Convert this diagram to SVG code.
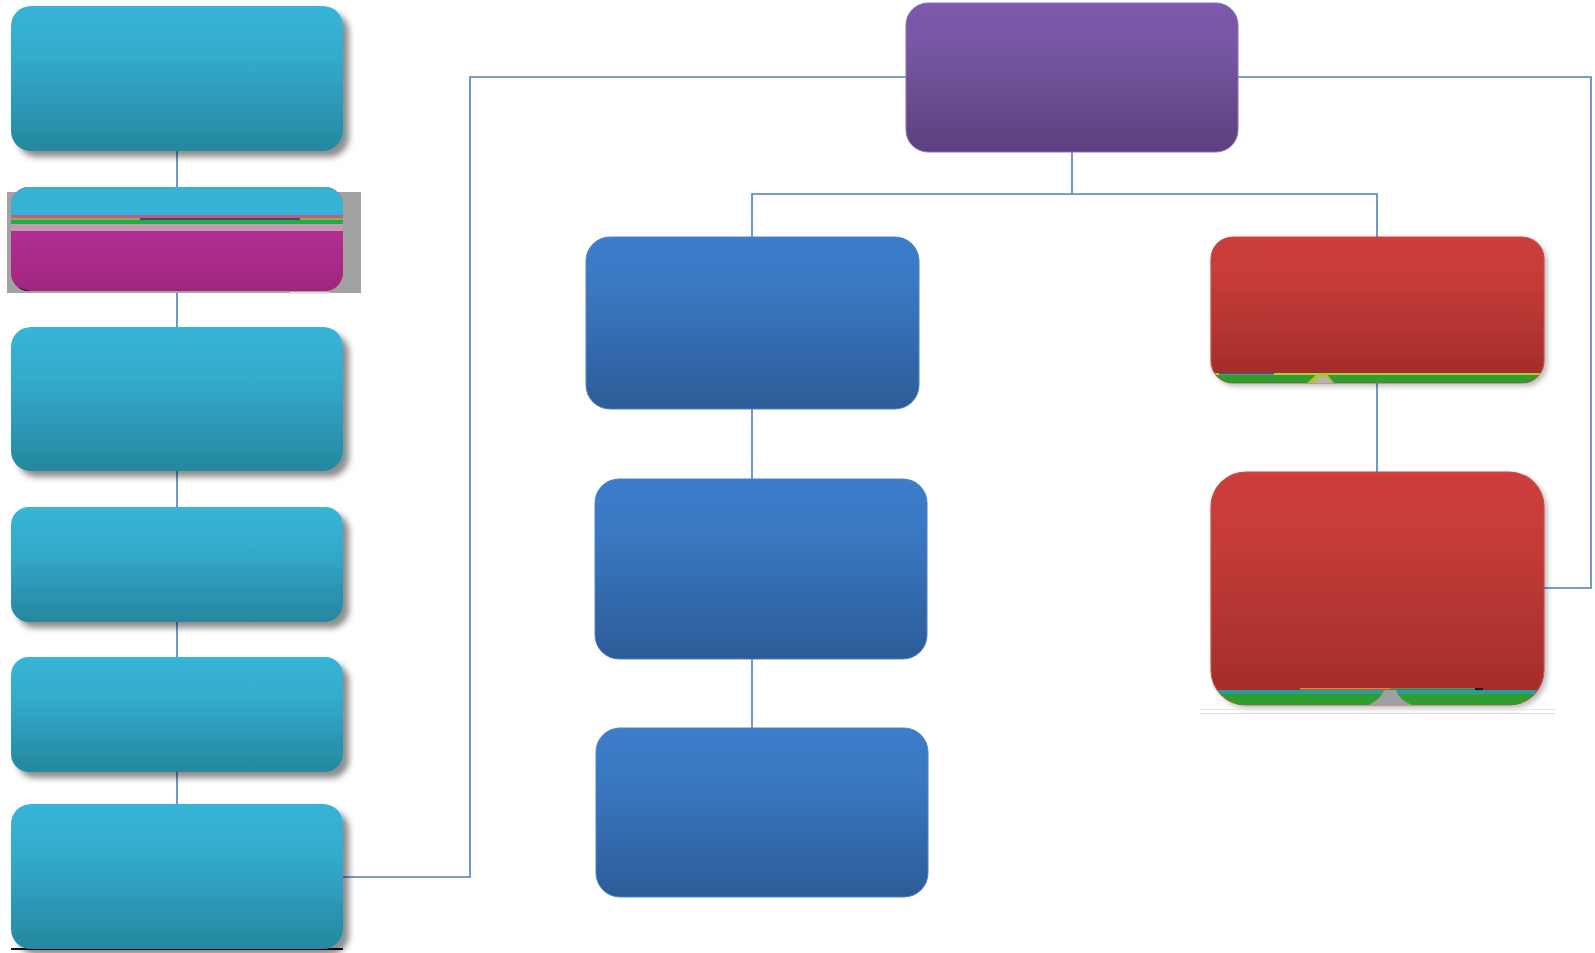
<svg xmlns="http://www.w3.org/2000/svg" width="1595" height="953" viewBox="0 0 1595 953">
<defs>
<linearGradient id="gCyan" x1="0" y1="0" x2="0" y2="1"><stop offset="0" stop-color="#37B4D7"/><stop offset="0.35" stop-color="#33ABCC"/><stop offset="1" stop-color="#26879F"/></linearGradient>
<linearGradient id="gPurple" x1="0" y1="0" x2="0" y2="1"><stop offset="0" stop-color="#7D5AAA"/><stop offset="0.3" stop-color="#7756A2"/><stop offset="1" stop-color="#5D407F"/></linearGradient>
<linearGradient id="gBlue" x1="0" y1="0" x2="0" y2="1"><stop offset="0" stop-color="#3C7DCA"/><stop offset="0.3" stop-color="#3A78C2"/><stop offset="1" stop-color="#2C5C97"/></linearGradient>
<linearGradient id="gRed" x1="0" y1="0" x2="0" y2="1"><stop offset="0" stop-color="#CC3E3B"/><stop offset="0.3" stop-color="#C53B38"/><stop offset="1" stop-color="#A02C2A"/></linearGradient>
<linearGradient id="gMag" x1="0" y1="0" x2="0" y2="1"><stop offset="0" stop-color="#C235A3"/><stop offset="1" stop-color="#9E267E"/></linearGradient>
<filter id="shGray" x="-10%" y="-10%" width="125%" height="130%"><feGaussianBlur in="SourceAlpha" stdDeviation="3"/><feOffset dx="6" dy="6" result="b"/><feFlood flood-color="#000" flood-opacity="0.45"/><feComposite in2="b" operator="in"/><feMerge><feMergeNode/><feMergeNode in="SourceGraphic"/></feMerge></filter>
<filter id="shLight" x="-10%" y="-10%" width="125%" height="130%"><feGaussianBlur in="SourceAlpha" stdDeviation="2.5"/><feOffset dx="3" dy="3" result="b"/><feFlood flood-color="#000" flood-opacity="0.25"/><feComposite in2="b" operator="in"/><feMerge><feMergeNode/><feMergeNode in="SourceGraphic"/></feMerge></filter>
<clipPath id="cBox2"><rect x="11" y="187" width="332" height="104" rx="18"/></clipPath>
<clipPath id="cRed1"><rect x="1211" y="237" width="333" height="146" rx="22"/></clipPath>
<clipPath id="cRed2"><rect x="1211" y="472" width="333" height="233" rx="35"/></clipPath>
</defs>
<style>
.ln{fill:none;stroke:#4A7EC4;stroke-width:1.6}
.cy{fill:url(#gCyan);filter:url(#shGray)}
.bl{fill:url(#gBlue);stroke:#4E82C6;stroke-width:1}
.rd{fill:url(#gRed);stroke:#C0504D;stroke-width:1.2;filter:url(#shLight)}
</style>
<rect width="1595" height="953" fill="#fff"/>
<g id="connectors">
<path class="ln" d="M177 151V187M177 291V327M177 471V507M177 622V657M177 772V804"/>
<path class="ln" d="M906 77H470V877H343"/>
<path class="ln" d="M1238 77H1591V588H1544"/>
<path class="ln" d="M1072 152V194M752 237V194H1377V237"/>
<path class="ln" d="M752 409V479M752 659V728"/>
<path class="ln" d="M1377 383V472"/>
</g>
<g id="n1"><rect class="cy" x="11" y="6" width="332" height="145" rx="20"/></g>
<g id="n2">
<rect x="7" y="192" width="354" height="101" fill="#A2A2A2"/>
<g clip-path="url(#cBox2)">
<rect x="11" y="187" width="332" height="104" fill="url(#gMag)"/>
<rect x="11" y="187" width="332" height="28" fill="#36B2D6"/>
<rect x="11" y="215" width="332" height="3" fill="#C05C8C"/>
<rect x="11" y="218" width="332" height="2" fill="#9AAA40"/>
<rect x="11" y="220" width="332" height="4" fill="#1FAE4E"/>
<rect x="19" y="225" width="86" height="1.5" fill="#3A2BB0"/>
<rect x="140" y="218" width="160" height="2" fill="#4A4A5A"/>
<rect x="11" y="224" width="332" height="7" fill="#C59AAE"/>
<path d="M11 280Q14 288 30 291H11Z" fill="#000"/>
</g>
<rect x="290" y="292" width="40" height="2" fill="#DDD"/>
</g>
<g id="n3"><rect class="cy" x="11" y="327" width="332" height="144" rx="20"/></g>
<g id="n4"><rect class="cy" x="11" y="507" width="332" height="115" rx="18"/></g>
<g id="n5"><rect class="cy" x="11" y="657" width="332" height="115" rx="18"/></g>
<g id="n6"><rect x="11" y="948" width="332" height="2" fill="#111"/><rect class="cy" x="11" y="804" width="332" height="145" rx="20"/></g>
<g id="n7"><rect x="906" y="3" width="332" height="149" rx="22" fill="url(#gPurple)" stroke="#8A70B8" stroke-width="1"/></g>
<g id="n8"><rect class="bl" x="586" y="237" width="333" height="172" rx="24"/></g>
<g id="n9"><rect class="bl" x="595" y="479" width="332" height="180" rx="24"/></g>
<g id="n10"><rect class="bl" x="596" y="728" width="332" height="169" rx="24"/></g>
<g id="n11">
<rect class="rd" x="1211" y="237" width="333" height="146" rx="22"/>
<g clip-path="url(#cRed1)">
<rect x="1211" y="373" width="333" height="2" fill="#B8C83A"/>
<rect x="1211" y="375" width="333" height="8" fill="#2E9E2E"/>
<rect x="1219" y="373" width="55" height="1.5" fill="#3A50A0"/>
<path d="M1307 383L1318 373H1326L1334 383Z" fill="#A8C830"/>
<path d="M1313 383L1323 375L1333 383Z" fill="#B5B5B8"/>
</g>
</g>
<g id="n12">
<rect class="rd" x="1211" y="472" width="333" height="233" rx="35"/>
<g clip-path="url(#cRed2)">
<rect x="1300" y="688" width="90" height="1.5" fill="#D09030"/>
<rect x="1390" y="688" width="85" height="1.5" fill="#3AA060"/>
<rect x="1211" y="690" width="333" height="4" fill="#2A9A9A"/>
<rect x="1211" y="694" width="333" height="11" fill="#2E9E2E"/>
<path d="M1369 705Q1382 698 1384 690H1396Q1399 700 1412 705Z" fill="#A0A0A0"/>
</g>
<rect x="1475" y="688" width="8" height="2" fill="#111"/>
<rect x="1200" y="709" width="355" height="1" fill="#E4E4E4"/>
<rect x="1200" y="713" width="355" height="1" fill="#DADADA"/>
</g>
</svg>
